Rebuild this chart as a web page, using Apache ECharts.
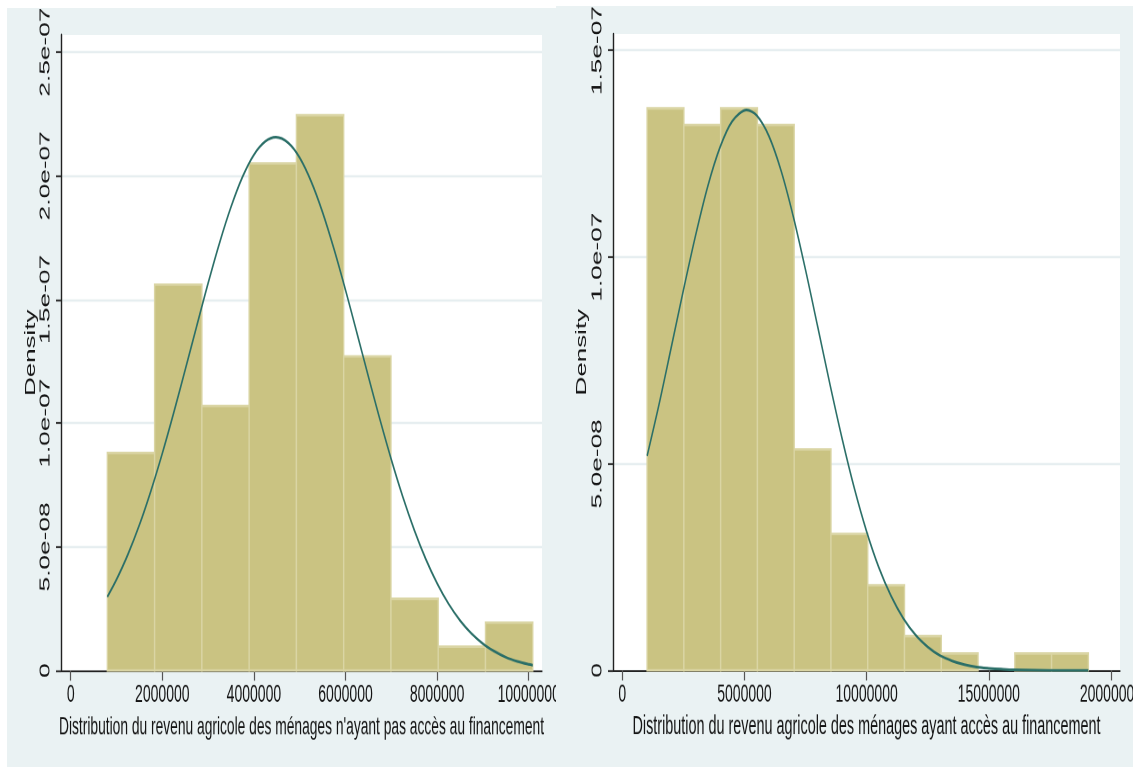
<!DOCTYPE html>
<html>
<head>
<meta charset="utf-8">
<script src="https://cdn.jsdelivr.net/npm/echarts@6/dist/echarts.min.js"></script>
<style>
  html, body { margin: 0; padding: 0; background: #ffffff; width: 1136px; height: 769px; overflow: hidden; }
  .panel { position: absolute; overflow: hidden; background: #eaf2f3; }
  .chart { position: absolute; left: 0; top: 0; transform-origin: 0 0; }
</style>
</head>
<body>
<div id="panelLeft" class="panel" style="left:7px;top:8px;width:549px;height:759px"><div id="chartLeft" class="chart"></div></div>
<div id="panelRight" class="panel" style="left:556px;top:6px;width:577px;height:761px"><div id="chartRight" class="chart"></div></div>
<script>
// ---- Households without access to financing ----
const leftBinStart = 800000;
const leftBinWidth = 1032000;
const leftDensity = [8.8e-8, 1.56e-7, 1.07e-7, 2.05e-7, 2.245e-7, 1.27e-7, 2.9e-8, 9.7e-9, 1.94e-8];
// fitted normal density, sampled along the income range
const leftCurveX = [800000, 1000000, 1250000, 1500000, 1750000, 2000000, 2250000, 2500000, 2750000, 3000000,
                    3250000, 3500000, 3750000, 4000000, 4250000, 4480000, 4750000, 5000000, 5250000, 5500000,
                    5750000, 6000000, 6250000, 6500000, 6750000, 7000000, 7250000, 7500000, 7750000, 8000000,
                    8250000, 8500000, 8750000, 9000000, 9250000, 9500000, 9750000, 10000000, 10088000];
const leftCurveY = [2.98e-8, 3.68e-8, 4.70e-8, 5.89e-8, 7.26e-8, 8.78e-8, 1.043e-7, 1.216e-7, 1.392e-7, 1.566e-7,
                    1.729e-7, 1.874e-7, 1.995e-7, 2.085e-7, 2.139e-7, 2.156e-7, 2.133e-7, 2.073e-7, 1.977e-7, 1.852e-7,
                    1.703e-7, 1.538e-7, 1.364e-7, 1.188e-7, 1.016e-7, 8.53e-8, 7.03e-8, 5.69e-8, 4.52e-8, 3.53e-8,
                    2.70e-8, 2.03e-8, 1.50e-8, 1.09e-8, 7.8e-9, 5.4e-9, 3.7e-9, 2.5e-9, 2.2e-9];
const leftXTicks = [0, 2000000, 4000000, 6000000, 8000000, 10000000];
const leftYTicks = [0, 5e-8, 1e-7, 1.5e-7, 2e-7, 2.5e-7];
const leftYTickLabels = ['0', '5.0e-08', '1.0e-07', '1.5e-07', '2.0e-07', '2.5e-07'];
const leftTitle = "Distribution du revenu agricole des ménages n'ayant pas accès au financement";

// ---- Households with access to financing ----
const rightBinStart = 1015000;
const rightBinWidth = 1505000;
const rightDensity = [1.36e-7, 1.32e-7, 1.36e-7, 1.32e-7, 5.35e-8, 3.3e-8, 2.06e-8, 8.3e-9, 4.1e-9, 0, 4.1e-9, 4.1e-9];
const rightCurveX = [1015000, 1500000, 2000000, 2500000, 3000000, 3500000, 4000000, 4500000, 5090000, 5500000,
                     6000000, 6500000, 7000000, 7500000, 8000000, 8500000, 9000000, 9500000, 10000000, 10500000,
                     11000000, 11500000, 12000000, 12500000, 13000000, 13500000, 14000000, 14500000, 15000000, 15500000,
                     16000000, 17000000, 18000000, 19075000];
const rightCurveY = [5.19e-8, 6.43e-8, 7.81e-8, 9.20e-8, 1.053e-7, 1.172e-7, 1.266e-7, 1.329e-7, 1.356e-7, 1.343e-7,
                     1.293e-7, 1.209e-7, 1.098e-7, 9.69e-8, 8.31e-8, 6.92e-8, 5.60e-8, 4.40e-8, 3.36e-8, 2.49e-8,
                     1.80e-8, 1.26e-8, 8.6e-9, 5.7e-9, 3.6e-9, 2.3e-9, 1.4e-9, 8e-10, 5e-10, 3e-10,
                     1.4e-10, 4e-11, 1e-11, 2e-12];
const rightXTicks = [0, 5000000, 10000000, 15000000, 20000000];
const rightYTicks = [0, 5e-8, 1e-7, 1.5e-7];
const rightYTickLabels = ['0', '5.0e-08', '1.0e-07', '1.5e-07'];
const rightTitle = "Distribution du revenu agricole des ménages ayant accès au financement";

// Vertical stretch of the whole graph
const S = 1.8;
const FONT = "'Liberation Sans', Arial, sans-serif";
const INK = '#141414';

function binRows(start, width, dens) {
  return dens.map((d, i) => [start + i * width, start + (i + 1) * width, d]);
}

function buildOption(cfg) {
  return {
    animation: false,
    grid: {
      left: cfg.grid.left, right: cfg.grid.right,
      top: cfg.grid.top / S, bottom: cfg.grid.bottom / S,
      outerBoundsMode: 'none', containLabel: false,
      show: true, backgroundColor: '#ffffff', borderWidth: 0
    },
    xAxis: {
      type: 'value', min: cfg.xMin, max: cfg.xMax,
      name: cfg.title, nameLocation: 'middle', nameGap: 24.5, nameMoveOverlap: false,
      nameTextStyle: { fontFamily: FONT, fontSize: cfg.titleSize, color: INK },
      axisLine: { show: true, onZero: false, lineStyle: { color: '#222222', width: 1.1 } },
      axisTick: { show: true, length: 5.6, customValues: cfg.xTicks, lineStyle: { color: '#555555', width: 1.2 } },
      axisLabel: { customValues: cfg.xTicks, margin: 6.5, fontFamily: FONT, fontSize: 14, color: INK,
                   formatter: v => String(Math.round(v)) },
      splitLine: { show: false }
    },
    yAxis: {
      type: 'value', min: 0, max: cfg.yMax, interval: 5e-8,
      name: 'Density', nameLocation: 'middle', nameGap: cfg.nameGap, nameMoveOverlap: false,
      nameTextStyle: { fontFamily: FONT, fontSize: 14.4, color: INK },
      axisLine: { show: true, onZero: false, lineStyle: { color: '#222222', width: 1.4 } },
      axisTick: { show: true, length: 5, customValues: cfg.yTicks, lineStyle: { color: '#333333', width: 1.1 } },
      axisLabel: {
        customValues: cfg.yTicks, rotate: 90, margin: 8,
        fontFamily: FONT, fontSize: 14.6, color: INK,
        formatter: v => {
          const i = cfg.yTicks.findIndex(t => Math.abs(t - v) < 1e-12);
          return i >= 0 ? cfg.yLabels[i] : '';
        }
      },
      splitLine: { show: true, lineStyle: { color: '#e6eef0', width: 1.2 } }
    },
    series: [
      {
        type: 'custom',
        data: binRows(cfg.binStart, cfg.binWidth, cfg.density),
        encode: { x: [0, 1], y: 2 },
        renderItem: (params, api) => {
          const h = api.value(2);
          if (!(h > 0)) return null;
          const p0 = api.coord([api.value(0), h]);
          const p1 = api.coord([api.value(1), 0]);
          return {
            type: 'rect',
            shape: { x: p0[0], y: p0[1], width: p1[0] - p0[0], height: p1[1] - p0[1] },
            style: { fill: '#cac382', stroke: '#dad5a4', lineWidth: 1.4 }
          };
        },
        z: 2
      },
      {
        type: 'line',
        data: cfg.curveX.map((x, i) => [x, cfg.curveY[i]]),
        smooth: 0.3, symbol: 'none', showSymbol: false,
        lineStyle: { color: '#2b6f68', width: 1.5, join: 'round' },
        z: 3
      }
    ]
  };
}

function mount(panelId, chartId, cfg) {
  const panel = document.getElementById(panelId);
  const el = document.getElementById(chartId);
  const w = panel.clientWidth, h = panel.clientHeight;
  el.style.width = w + 'px';
  el.style.height = (h / S) + 'px';
  el.style.transform = 'scaleY(' + S + ')';
  const chart = echarts.init(el, null, { renderer: 'canvas', devicePixelRatio: 2 });
  chart.setOption(buildOption(cfg));
}

mount('panelLeft', 'chartLeft', {
  grid: { left: 54, right: 14, top: 27, bottom: 97 },
  xMin: -212000, xMax: 10290000, yMax: 2.569e-7, nameGap: 23, titleSize: 13.8,
  xTicks: leftXTicks, yTicks: leftYTicks, yLabels: leftYTickLabels, title: leftTitle,
  binStart: leftBinStart, binWidth: leftBinWidth, density: leftDensity,
  curveX: leftCurveX, curveY: leftCurveY
});

mount('panelRight', 'chartRight', {
  grid: { left: 57, right: 13, top: 28, bottom: 97 },
  xMin: -381000, xMax: 20370000, yMax: 1.54e-7, nameGap: 24, titleSize: 14.4,
  xTicks: rightXTicks, yTicks: rightYTicks, yLabels: rightYTickLabels, title: rightTitle,
  binStart: rightBinStart, binWidth: rightBinWidth, density: rightDensity,
  curveX: rightCurveX, curveY: rightCurveY
});
</script>
</body>
</html>
